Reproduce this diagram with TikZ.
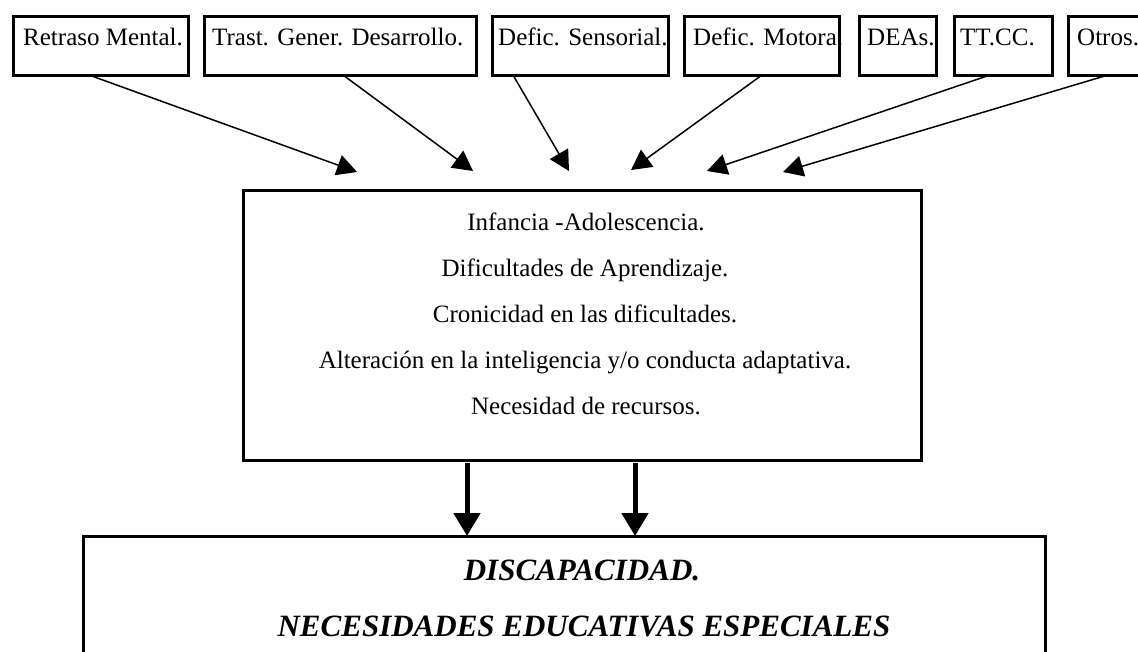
\documentclass[tikz,border=0pt]{standalone}
\usepackage{fontspec}
\setmainfont{Liberation Serif}
\usetikzlibrary{arrows.meta}
\begin{document}
\begin{tikzpicture}[x=1pt,y=-1pt,
  box/.style={draw,line width=3pt,rectangle,inner sep=0pt,outer sep=0pt},
  toplabel/.style={anchor=base west,inner sep=0pt,font=\fontsize{25}{30}\selectfont},
  midline/.style={anchor=base,inner sep=0pt,font=\fontsize{25}{30}\selectfont},
  botline/.style={anchor=base,inner sep=0pt,font=\fontsize{31}{36}\selectfont\bfseries\itshape},
  thinarrow/.style={line width=1.5pt,-{Triangle[length=20pt,width=21pt]}},
  thickarrow/.style={line width=5pt,-{Triangle[length=23pt,width=26pt]}}]
\useasboundingbox (0,0) rectangle (1138,651);
\fill[white] (0,0) rectangle (1138,651);
% top boxes
\node[box,minimum width=175pt,minimum height=59pt] (b1) at (100.5,45.5) {};
\node[box,minimum width=272pt,minimum height=59pt] (b2) at (340,45.5) {};
\node[box,minimum width=176pt,minimum height=59pt] (b3) at (580,45.5) {};
\node[box,minimum width=155pt,minimum height=59pt] (b4) at (761.5,45.5) {};
\node[box,minimum width=77pt,minimum height=59pt] (b5) at (897.5,45.5) {};
\node[box,minimum width=98pt,minimum height=59pt] (b6) at (1003,45.5) {};
\node[box,minimum width=72pt,minimum height=59pt] (b7) at (1104,45.5) {};
\node[toplabel] (l1) at (23,45) {Retraso Mental.};
\node[toplabel] (l2) at (212,45) {Trast. Gener. Desarrollo.};
\node[toplabel] (l3) at (498,45) {Defic. Sensorial.};
\node[toplabel] (l4) at (693,45) {Defic. Motora.};
\node[toplabel] (l5) at (867,45) {DEAs.};
\node[toplabel] (l6) at (960,45) {TT.CC.};
\node[toplabel] (l7) at (1077,45) {Otros.};
% middle box
\node[box,minimum width=678pt,minimum height=270pt] (mid) at (582,325) {};
\node[midline] (m1) at (586,230) {Infancia -Adolescencia.};
\node[midline] (m2) at (585,276) {Dificultades de Aprendizaje.};
\node[midline] (m3) at (585,322) {Cronicidad en las dificultades.};
\node[midline] (m4) at (585,368) {Alteración en la inteligencia y/o conducta adaptativa.};
\node[midline] (m5) at (586,414) {Necesidad de recursos.};
% bottom box
\node[box,minimum width=962pt,minimum height=140pt] (bot) at (564,606) {};
\node[botline] (d1) at (582,580) {DISCAPACIDAD.};
\node[botline] (d2) at (584,636) {NECESIDADES EDUCATIVAS ESPECIALES};
% arrow tips
\coordinate (t1) at (357,172);
\coordinate (t2) at (473,171);
\coordinate (t3) at (569,171);
\coordinate (t4) at (631,170);
\coordinate (t6) at (707,171);
\coordinate (t7) at (783,172);
\draw[thinarrow] ([xshift=76pt]b1.south west) -- (t1);
\draw[thinarrow] ([xshift=139pt]b2.south west) -- (t2);
\draw[thinarrow] ([xshift=21pt]b3.south west) -- (t3);
\draw[thinarrow] ([xshift=78pt]b4.south west) -- (t4);
\draw[thinarrow] ([xshift=36pt]b6.south west) -- (t6);
\draw[thinarrow] ([xshift=40pt]b7.south west) -- (t7);
\draw[thickarrow] ([xshift=224pt,yshift=-3pt]mid.south west) -- ([xshift=384pt]bot.north west);
\draw[thickarrow] ([xshift=392pt,yshift=-3pt]mid.south west) -- ([xshift=552pt]bot.north west);
\end{tikzpicture}
\end{document}
